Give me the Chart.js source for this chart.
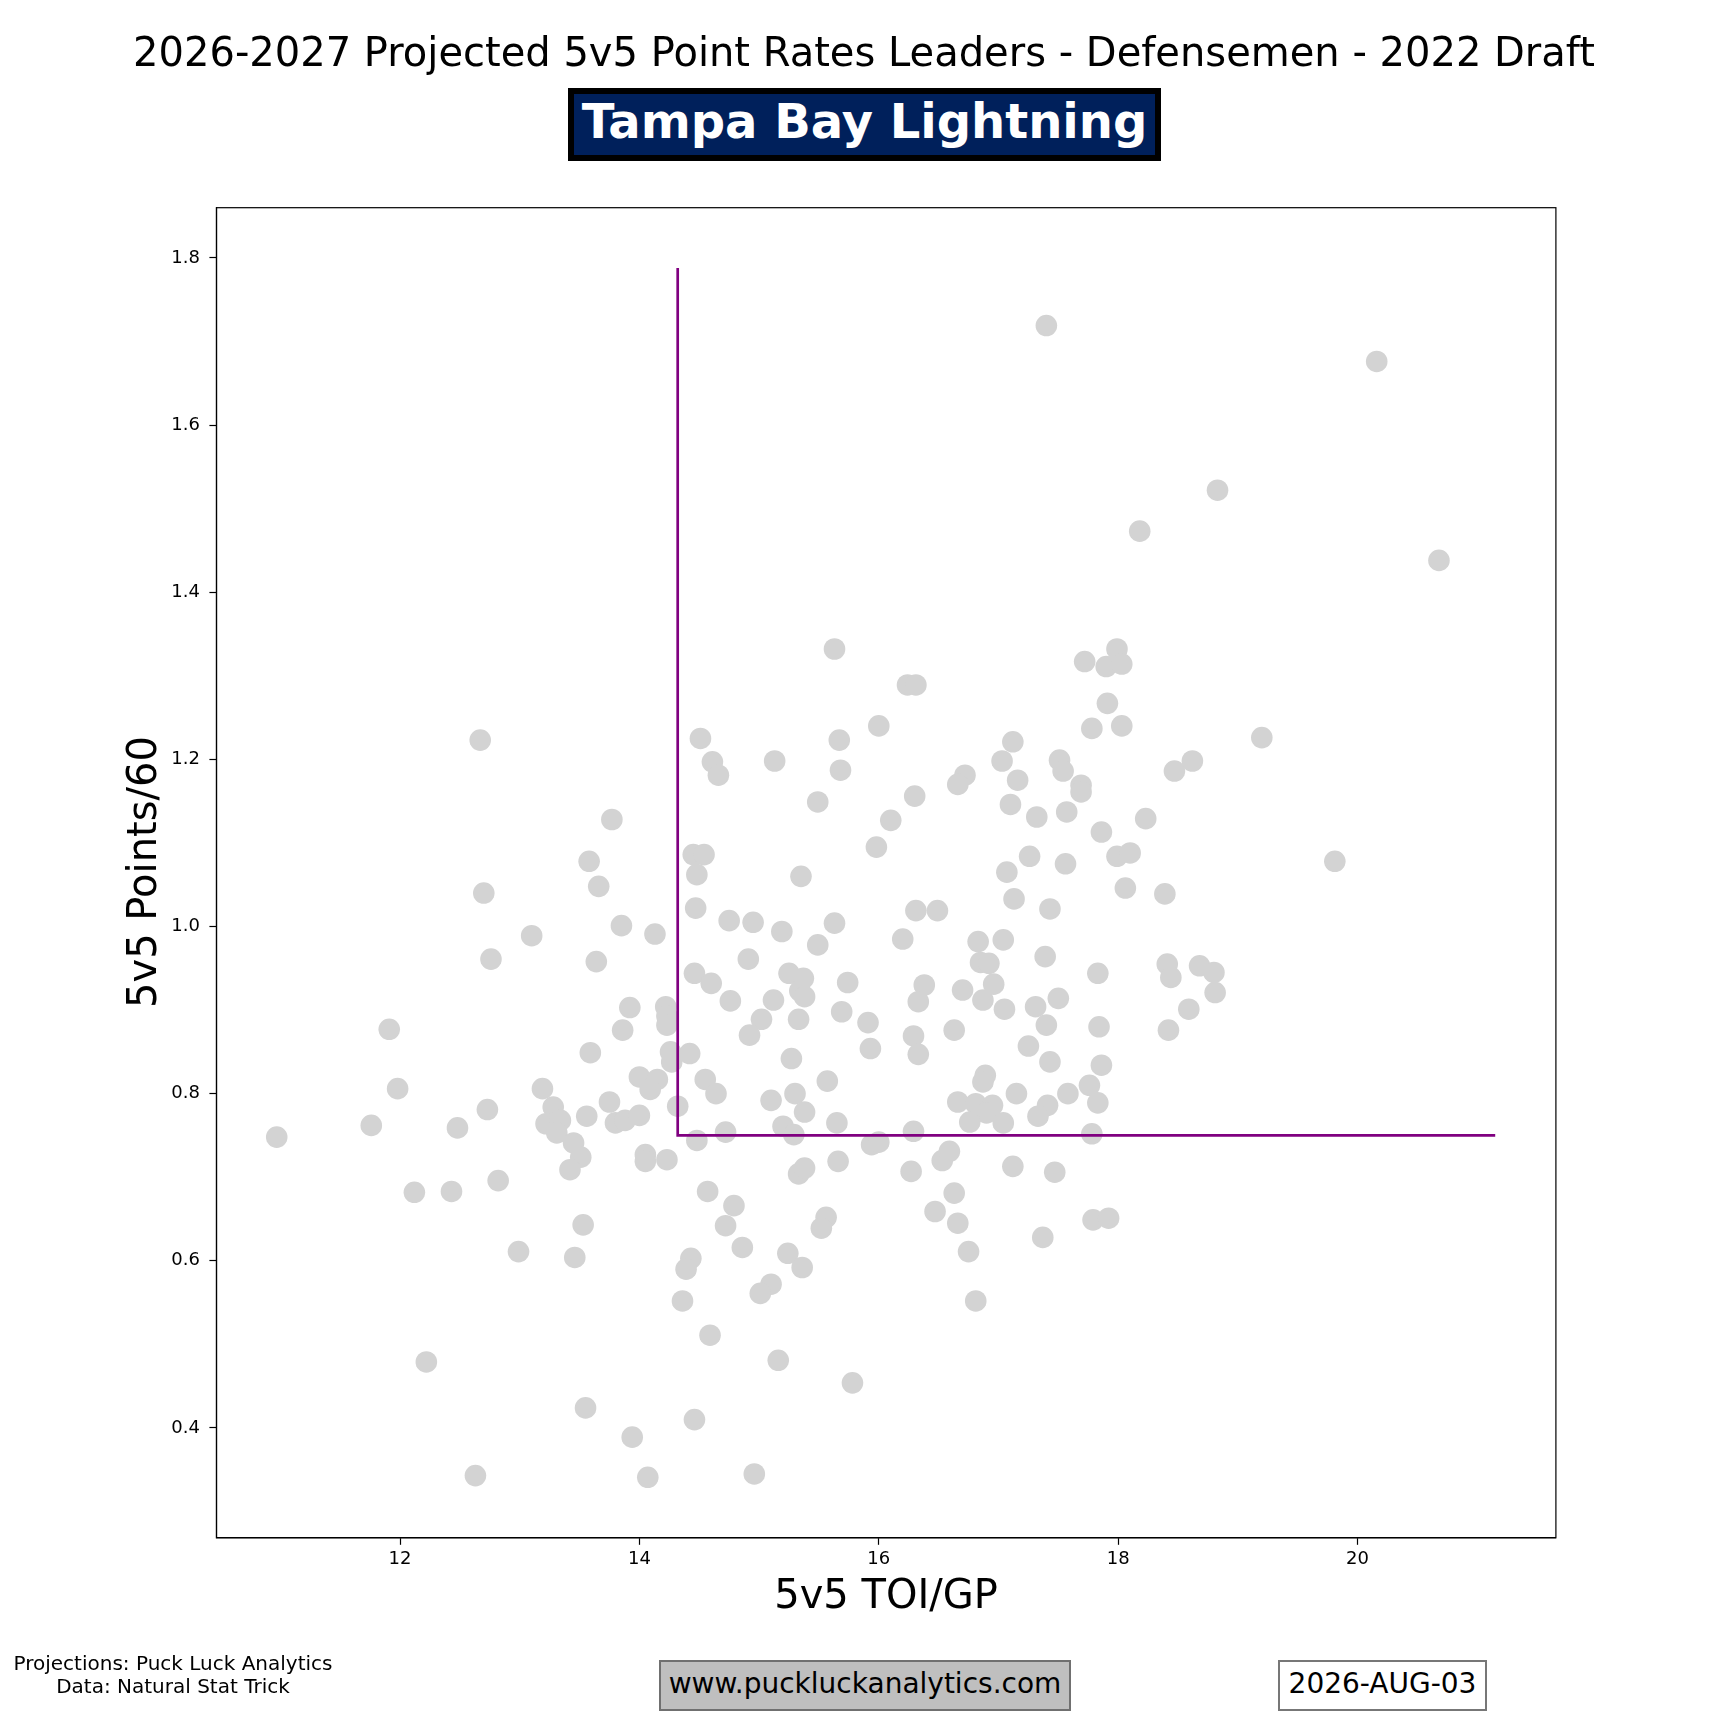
<!DOCTYPE html>
<html>
<head>
<meta charset="UTF-8">
<title>Tampa Bay Lightning - 5v5 Point Rates</title>
<script src="https://cdn.jsdelivr.net/npm/chart.js@4.4.1/dist/chart.umd.min.js"></script>
<style>
  body { margin: 0; background: #fff; }
  #page { position: relative; width: 1728px; height: 1728px; font-family: "DejaVu Sans", sans-serif; color: #000; }
  #page canvas { position: absolute; left: 0; top: 0; }
  .txt { position: absolute; white-space: nowrap; line-height: 1; }
  .box { position: absolute; box-sizing: border-box; }
</style>
</head>
<body>
<div id="page">
  <canvas id="chart1" width="1728" height="1728"></canvas>

  <div class="txt" style="left:0;width:1728px;top:32px;font-size:40px;text-align:center;">2026-2027 Projected 5v5 Point Rates Leaders - Defensemen - 2022 Draft</div>

  <div class="box" style="left:568px;top:88px;width:593px;height:73px;background:#00205b;border:6px solid #000;"></div>
  <div class="txt" style="left:568px;width:593px;top:97px;font-size:48px;font-weight:bold;color:#fff;text-align:center;">Tampa Bay Lightning</div>

  <div class="txt" style="left:486px;width:800px;top:1574px;font-size:40px;text-align:center;">5v5 TOI/GP</div>
  <div class="txt" style="left:-58px;width:400px;top:852px;height:40px;line-height:40px;font-size:40px;text-align:center;transform:rotate(-90deg);">5v5 Points/60</div>

  <div class="txt" style="left:0;width:346px;top:1653px;font-size:20px;text-align:center;">Projections: Puck Luck Analytics</div>
  <div class="txt" style="left:0;width:346px;top:1676px;font-size:20px;text-align:center;">Data: Natural Stat Trick</div>

  <div class="box" style="left:659px;top:1660px;width:412px;height:51px;background:#bfbfbf;border:2px solid #707070;"></div>
  <div class="txt" style="left:659px;width:412px;top:1670px;font-size:28px;text-align:center;">www.puckluckanalytics.com</div>

  <div class="box" style="left:1278px;top:1660px;width:209px;height:51px;background:#fff;border:2px solid #777;"></div>
  <div class="txt" style="left:1278px;width:209px;top:1670px;font-size:28px;text-align:center;">2026-AUG-03</div>
</div>

<script>
// 5v5 TOI per game (x) and 5v5 points per 60 (y) in groups
var toiTop = [17.40, 20.16, 18.83, 18.18, 20.68];
var ptsTop = [1.719, 1.676, 1.522, 1.473, 1.438];

var toiLeft = [12.67, 13.77, 13.58, 13.66, 12.70, 13.85, 14.13, 13.10, 12.76, 13.64,
               13.92, 13.86, 11.91, 13.59, 14.22, 14.23, 14.23, 14.26, 14.27];
var ptsLeft = [1.223, 1.128, 1.078, 1.048, 1.040, 1.001, 0.991, 0.989, 0.961, 0.958,
               0.903, 0.876, 0.877, 0.849, 0.904, 0.893, 0.882, 0.850, 0.838];

var toiMid = [15.63, 16.24, 16.31, 17.72, 17.90, 17.99, 18.03, 17.91, 17.78, 18.03,
              16.00, 14.51, 15.67, 14.61, 14.66, 15.13, 15.68, 17.12, 17.03, 17.16,
              17.51, 17.54, 17.69, 17.69, 16.72, 16.66, 16.30, 15.49, 17.10, 17.32,
              17.57, 16.10, 17.86, 15.98, 14.45, 14.54, 14.48, 15.35, 17.26, 17.56,
              17.99, 18.10, 17.07, 17.13, 17.43, 18.06, 14.47, 14.75, 14.95, 15.19,
              15.63, 16.31, 16.49, 16.20, 15.49, 16.83, 17.04, 17.39, 14.91, 16.85,
              16.92, 17.83, 14.46, 14.60, 14.76, 15.25, 15.37, 15.34, 15.38, 15.74,
              15.12, 16.38, 16.33, 16.70, 16.96, 16.87, 17.05, 17.31, 17.50, 17.40,
              17.84, 15.02, 14.92, 15.33, 15.69, 15.91, 15.93, 16.29, 16.33, 16.63,
              17.25, 17.43, 17.86, 14.42, 15.27];
var ptsMid = [1.332, 1.289, 1.289, 1.317, 1.311, 1.332, 1.314, 1.267, 1.237, 1.240,
              1.240, 1.225, 1.223, 1.197, 1.181, 1.198, 1.187, 1.221, 1.198, 1.175,
              1.199, 1.186, 1.169, 1.161, 1.181, 1.170, 1.156, 1.149, 1.146, 1.131,
              1.137, 1.127, 1.113, 1.095, 1.086, 1.086, 1.062, 1.060, 1.084, 1.075,
              1.084, 1.088, 1.065, 1.033, 1.021, 1.046, 1.022, 1.007, 1.005, 0.994,
              1.004, 1.019, 1.019, 0.985, 0.978, 0.982, 0.984, 0.964, 0.961, 0.957,
              0.956, 0.944, 0.944, 0.932, 0.911, 0.944, 0.938, 0.923, 0.916, 0.933,
              0.912, 0.930, 0.910, 0.924, 0.931, 0.912, 0.901, 0.904, 0.914, 0.882,
              0.880, 0.889, 0.870, 0.889, 0.898, 0.885, 0.854, 0.869, 0.847, 0.876,
              0.857, 0.838, 0.834, 0.848, 0.842];

var toiRight = [19.20, 18.62, 18.47, 18.23, 18.39, 19.81, 18.41, 18.44, 18.68, 18.80,
                18.81, 18.59, 18.42];
var ptsRight = [1.226, 1.198, 1.186, 1.129, 1.039, 1.078, 0.955, 0.939, 0.953, 0.945,
                0.921, 0.901, 0.876];

var toiLowLeft = [11.98, 11.76, 10.97, 12.48, 12.73, 13.19, 13.28, 13.22, 13.34, 13.31,
                  13.45, 13.51, 13.42, 13.56, 13.75, 13.80, 13.88, 14.00, 14.00, 14.15,
                  14.09, 14.05, 14.05, 14.23, 12.12, 12.43, 12.82, 13.53, 12.99, 13.46,
                  12.22, 13.55, 13.94, 12.63, 14.07];
var ptsLowLeft = [0.806, 0.762, 0.748, 0.759, 0.781, 0.806, 0.784, 0.764, 0.768, 0.753,
                  0.741, 0.724, 0.709, 0.773, 0.790, 0.765, 0.768, 0.774, 0.820, 0.817,
                  0.805, 0.727, 0.719, 0.721, 0.682, 0.683, 0.696, 0.643, 0.611, 0.604,
                  0.479, 0.424, 0.389, 0.343, 0.341];

var toiLowMid = [14.55, 14.64, 14.32, 15.10, 15.30, 15.38, 15.57, 15.20, 15.29, 15.65,
                 14.72, 14.48, 15.33, 15.38, 15.66, 15.94, 16.00, 16.29, 16.27, 16.53,
                 16.59, 16.89, 16.87, 16.66, 16.81, 16.95, 16.90, 16.76, 17.04, 17.15,
                 17.41, 17.33, 17.58, 17.76, 17.83, 17.78, 17.12, 17.47, 14.57, 14.79,
                 14.72, 14.86, 15.56, 15.52, 15.24, 15.36, 14.43, 14.39, 15.10, 15.01,
                 14.36, 14.59, 15.16, 15.78, 14.46, 14.96, 16.47, 16.63, 16.66, 16.75,
                 16.81, 17.37, 17.79, 17.92];
var ptsLowMid = [0.817, 0.800, 0.785, 0.792, 0.800, 0.778, 0.815, 0.761, 0.751, 0.765,
                 0.754, 0.744, 0.704, 0.711, 0.719, 0.739, 0.742, 0.755, 0.707, 0.720,
                 0.731, 0.822, 0.814, 0.790, 0.788, 0.786, 0.777, 0.766, 0.765, 0.800,
                 0.786, 0.773, 0.800, 0.810, 0.789, 0.752, 0.713, 0.706, 0.683, 0.666,
                 0.642, 0.616, 0.652, 0.639, 0.609, 0.592, 0.603, 0.590, 0.572, 0.561,
                 0.552, 0.511, 0.481, 0.454, 0.410, 0.345, 0.659, 0.681, 0.645, 0.611,
                 0.552, 0.628, 0.649, 0.651];

// the purple cut-off line
var lineXs = [14.32, 14.32, 21.15];
var lineYs = [1.788, 0.750, 0.750];

var xTicks = [12, 14, 16, 18, 20];
var yTicks = [0.4, 0.6, 0.8, 1.0, 1.2, 1.4, 1.6, 1.8];

var toi = [].concat(toiTop, toiLeft, toiMid, toiRight, toiLowLeft, toiLowMid);
var pts = [].concat(ptsTop, ptsLeft, ptsMid, ptsRight, ptsLowLeft, ptsLowMid);

var points = _pairs(toi, pts);
var cutLine = _pairs(lineXs, lineYs);

function _pairs(xs, ys) {
    var out = [];
    for (var i = 0; i < xs.length; i++) out.push({x: xs[i], y: ys[i]});
    return out;
}

Chart.defaults.font.family = "DejaVu Sans";
Chart.defaults.color = "#000";

// box around the whole plot area, like matplotlib spines
var frame = {
    id: 'frame',
    afterDraw: function (chart) {
        var a = chart.chartArea, c = chart.ctx;
        c.save();
        c.strokeStyle = "#000";
        c.lineWidth = 1.2;
        c.strokeRect(a.left, a.top, a.right - a.left, a.bottom - a.top);
        c.restore();
    }
};

var ctx1 = document.getElementById("chart1");

var myChart = new Chart(ctx1, {
    type: 'scatter',
    data: {
        datasets: [
            {
                label: "cutoff",
                data: cutLine,
                showLine: true,
                borderColor: "#800080",
                borderWidth: 2.7,
                pointRadius: 0,
                tension: 0,
                fill: false,
                order: 0
            },
            {
                label: "players",
                data: points,
                backgroundColor: "#d3d3d3",
                borderWidth: 0,
                pointRadius: 10.8,
                pointHoverRadius: 10.8,
                order: 1
            }
        ]
    },
    options: {
        responsive: false,
        animation: false,
        devicePixelRatio: 1,
        layout: { padding: { left: 116.4, right: 172.1, top: 207.7, bottom: 90.2 } },
        plugins: { legend: { display: false }, tooltip: { enabled: false } },
        scales: {
            x: {
                type: 'linear',
                min: 10.466,
                max: 21.657,
                afterBuildTicks: function (s) { s.ticks = xTicks.map(function (v) { return {value: v}; }); },
                afterFit: function (s) { s.height = 100; },
                ticks: {
                    font: { size: 18 },
                    color: "#000",
                    padding: 3.5,
                    maxRotation: 0,
                    autoSkip: false,
                    callback: function (v) { return String(v); }
                },
                grid: { drawOnChartArea: false, drawTicks: true, tickLength: 7, tickColor: "#000", tickWidth: 1.2 },
                border: { color: "#000", width: 1.2 }
            },
            y: {
                type: 'linear',
                min: 0.2686,
                max: 1.860,
                afterBuildTicks: function (s) { s.ticks = yTicks.map(function (v) { return {value: v}; }); },
                afterFit: function (s) { s.width = 100; },
                ticks: {
                    font: { size: 18 },
                    color: "#000",
                    padding: 9.5,
                    autoSkip: false,
                    callback: function (v) { return Number(v).toFixed(1); }
                },
                grid: { drawOnChartArea: false, drawTicks: true, tickLength: 7, tickColor: "#000", tickWidth: 1.2 },
                border: { color: "#000", width: 1.2 }
            }
        }
    },
    plugins: [frame]
});
</script>
</body>
</html>
